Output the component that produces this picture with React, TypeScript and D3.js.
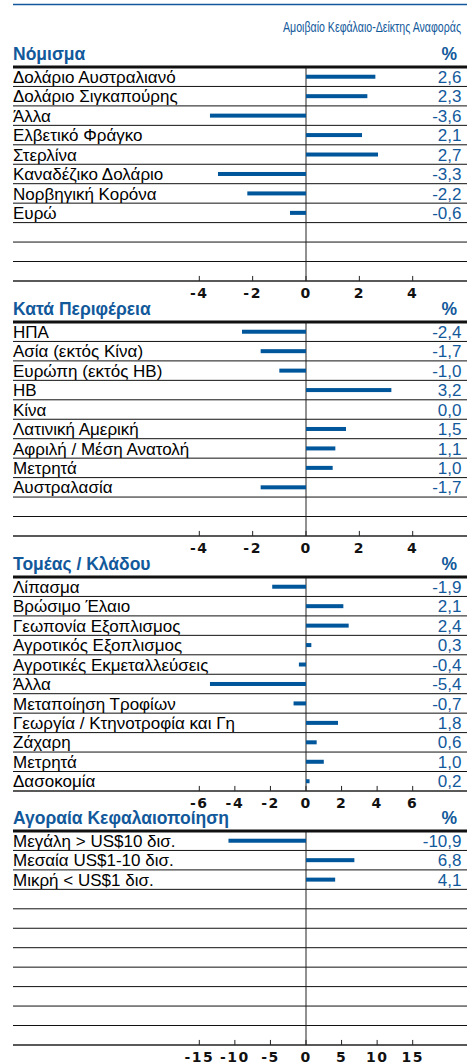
import { useEffect, useRef } from "react";
import * as d3 from "d3";

// Section titles
const sectionTitles = ["Νόμισμα", "Κατά Περιφέρεια", "Τομέας / Κλάδου", "Αγοραία Κεφαλαιοποίηση"];

// Currency
const currencyNames = ["Δολάριο Αυστραλιανό", "Δολάριο Σιγκαπούρης", "Άλλα", "Ελβετικό Φράγκο", "Στερλίνα", "Καναδέζικο Δολάριο", "Νορβηγική Κορόνα", "Ευρώ"];
const currencyValues = [2.6, 2.3, -3.6, 2.1, 2.7, -3.3, -2.2, -0.6];

// Region
const regionNames = ["ΗΠΑ", "Ασία (εκτός Κίνα)", "Ευρώπη (εκτός ΗΒ)", "ΗΒ", "Κίνα", "Λατινική Αμερική", "Αφριλή / Μέση Ανατολή", "Μετρητά", "Αυστραλασία"];
const regionValues = [-2.4, -1.7, -1.0, 3.2, 0.0, 1.5, 1.1, 1.0, -1.7];

// Sector
const sectorNames = ["Λίπασμα", "Βρώσιμο Έλαιο", "Γεωπονία Εξοπλισμος", "Αγροτικός Εξοπλισμος", "Αγροτικές Εκμεταλλεύσεις", "Άλλα", "Μεταποίηση Τροφίων", "Γεωργία / Κτηνοτροφία και Γη", "Ζάχαρη", "Μετρητά", "Δασοκομία"];
const sectorValues = [-1.9, 2.1, 2.4, 0.3, -0.4, -5.4, -0.7, 1.8, 0.6, 1.0, 0.2];

// Market cap
const capNames = ["Μεγάλη > US$10 δισ.", "Μεσαία US$1-10 δισ.", "Μικρή < US$1 δισ."];
const capValues = [-10.9, 6.8, 4.1];

// Axis ticks per section
const currencyTicks = [-4, -2, 0, 2, 4];
const regionTicks = [-4, -2, 0, 2, 4];
const sectorTicks = [-6, -4, -2, 0, 2, 4, 6];
const capTicks = [-15, -10, -5, 0, 5, 10, 15];

const subtitle = "Αμοιβαίο Κεφάλαιο-Δείκτης Αναφοράς";

function App() {
    const ref = useRef<SVGSVGElement>(null);

    const width = 467, height = 1062;
    const left = 13, right = 467;
    const rowH = 19.45, nRows = 11;
    const sectionTop = [67, 322, 577, 831];
    const blue = "#12599b";
    const barBlue = "#00569a";
    const labelFont = "'Liberation Sans', Arial, sans-serif";
    const headFont = "'Liberation Sans', Arial, sans-serif";
    const tickFont = "'DejaVu Sans', sans-serif";

    useEffect(() => {
        const svg = d3.select(ref.current);
        svg.selectAll("*").remove();

        // top blue rule
        svg.append("line")
            .attr("x1", left).attr("x2", right)
            .attr("y1", 4.5).attr("y2", 4.5)
            .attr("stroke", blue).attr("stroke-width", 1.5);

        svg.append("text")
            .attr("x", 461).attr("y", 32)
            .attr("text-anchor", "end")
            .attr("font-family", "'Liberation Sans', Arial, sans-serif")
            .attr("font-size", 15.5)
            .attr("textLength", 178)
            .attr("lengthAdjust", "spacingAndGlyphs")
            .attr("fill", blue)
            .text(subtitle);

        const sections = [
            { names: currencyNames, values: currencyValues, ticks: currencyTicks },
            { names: regionNames, values: regionValues, ticks: regionTicks },
            { names: sectorNames, values: sectorValues, ticks: sectorTicks },
            { names: capNames, values: capValues, ticks: capTicks },
        ];

        sections.forEach((s, si) => {
            const top = sectionTop[si];
            const ext = s.ticks[s.ticks.length - 1];
            const x = d3.scaleLinear().domain([-ext, ext]).range([199.3, 412.7]);
            const y = d3.scaleBand<number>()
                .domain(d3.range(nRows))
                .range([top, top + nRows * rowH]);
            const axisY = top + nRows * rowH;

            const g = svg.append("g");

            // header
            g.append("text")
                .attr("x", left).attr("y", top - 7)
                .attr("font-family", headFont)
                .attr("font-weight", "bold")
                .attr("font-size", 17.5)
                .attr("fill", blue)
                .text(sectionTitles[si]);
            g.append("text")
                .attr("x", 457).attr("y", top - 7)
                .attr("text-anchor", "end")
                .attr("font-family", headFont)
                .attr("font-weight", "bold")
                .attr("font-size", 17.5)
                .attr("fill", blue)
                .text("%");

            // row rules
            g.selectAll("line.row")
                .data(d3.range(1, nRows))
                .enter()
                .append("line")
                .attr("class", "row")
                .attr("x1", left).attr("x2", right)
                .attr("y1", d => y(d) as number).attr("y2", d => y(d) as number)
                .attr("stroke", "#111").attr("stroke-width", 1);

            // zero line
            g.append("line")
                .attr("x1", x(0)).attr("x2", x(0))
                .attr("y1", top).attr("y2", axisY)
                .attr("stroke", "#222").attr("stroke-width", 1);

            // bars
            g.selectAll("rect.bar")
                .data(s.values)
                .enter()
                .append("rect")
                .attr("class", "bar")
                .attr("x", d => Math.min(x(0), x(d)))
                .attr("width", d => Math.abs(x(d) - x(0)))
                .attr("y", (d, i) => (y(i) as number) + y.bandwidth() / 2 - 2)
                .attr("height", 4)
                .attr("fill", barBlue);

            // labels
            g.selectAll("text.lab")
                .data(s.names)
                .enter()
                .append("text")
                .attr("class", "lab")
                .attr("x", left)
                .attr("y", (d, i) => (y(i) as number) + rowH - 3.6)
                .attr("font-family", labelFont)
                .attr("font-size", 17)
                .attr("fill", "#000")
                .text(d => d);

            // values
            g.selectAll("text.val")
                .data(s.values)
                .enter()
                .append("text")
                .attr("class", "val")
                .attr("x", 461.5)
                .attr("y", (d, i) => (y(i) as number) + rowH - 3.6)
                .attr("text-anchor", "end")
                .attr("font-family", labelFont)
                .attr("font-size", 17)
                .attr("fill", blue)
                .text(d => d.toFixed(1).replace(".", ","));

            // top thick rule
            g.append("line")
                .attr("x1", left).attr("x2", right)
                .attr("y1", top).attr("y2", top)
                .attr("stroke", "#111").attr("stroke-width", 3);

            // bottom axis
            const axis = g.append("g")
                .attr("transform", `translate(0,${axisY})`);
            axis.append("line")
                .attr("x1", left).attr("x2", right)
                .attr("y1", 0).attr("y2", 0)
                .attr("stroke", "#222").attr("stroke-width", 1.5);
            axis.selectAll("line.tick")
                .data(s.ticks)
                .enter()
                .append("line")
                .attr("class", "tick")
                .attr("x1", d => x(d)).attr("x2", d => x(d))
                .attr("y1", -5).attr("y2", 0)
                .attr("stroke", "#222").attr("stroke-width", 1);
            axis.selectAll("text.tick")
                .data(s.ticks)
                .enter()
                .append("text")
                .attr("class", "tick")
                .attr("x", d => x(d))
                .attr("y", 17.5)
                .attr("text-anchor", "middle")
                .attr("font-family", tickFont)
                .attr("font-weight", "bold")
                .attr("font-size", 14)
                .attr("letter-spacing", 1.5)
                .attr("fill", "#111")
                .text(d => (d < 0 ? "-" + Math.abs(d) : String(d)));
        });
    }, []);

    return (
        <svg ref={ref} width={width} height={height}
             style={{ position: "absolute", left: 0, top: 0, background: "#fff" }} />
    );
}

export default App;
